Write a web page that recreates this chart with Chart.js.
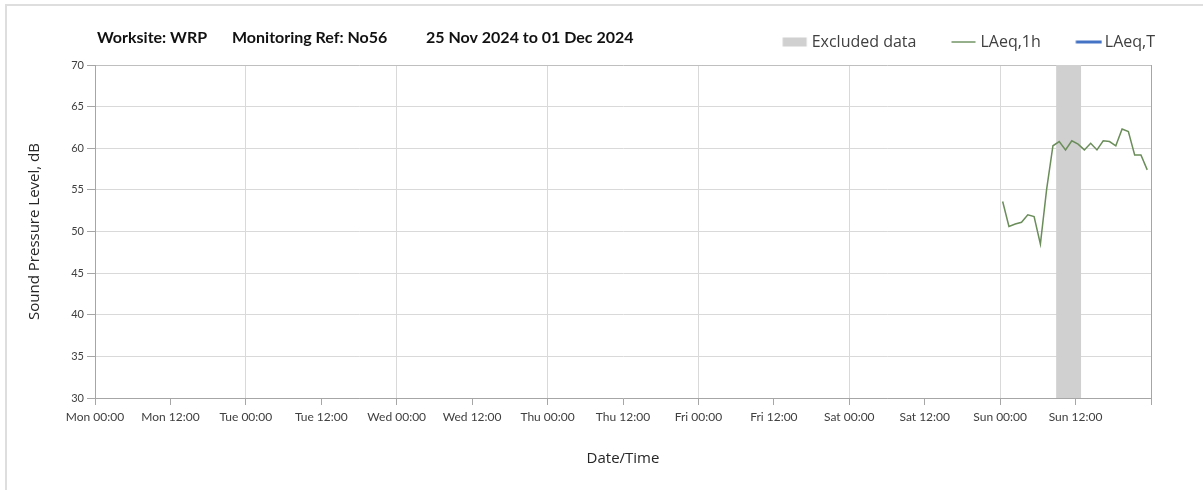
<!DOCTYPE html>
<html>
<head>
<meta charset="utf-8">
<script src="https://cdn.jsdelivr.net/npm/chart.js@4.4.1/dist/chart.umd.min.js"></script>
<style>
  html, body { margin: 0; padding: 0; background: #fff; }
  #wrap { position: relative; width: 1203px; height: 490px; overflow: hidden; }
  #frame { position: absolute; left: 5px; top: 4px; right: 0; bottom: 0;
           border-left: 2px solid #dedede; border-top: 2px solid #dedede; }
  #c { position: absolute; left: 0; top: 0; }
</style>
</head>
<body>
<div id="wrap">
  <div id="frame"></div>
  <canvas id="c" width="1203" height="490"></canvas>
</div>
<script>
// Heading drawn above the plot, in three parts
const headingParts = ['Worksite: WRP', 'Monitoring Ref: No56', '25 Nov 2024 to 01 Dec 2024'];

// Week axis labels, one per 12 hours from Mon 00:00
const tickLabels = ['Mon 00:00', 'Mon 12:00', 'Tue 00:00', 'Tue 12:00', 'Wed 00:00', 'Wed 12:00',
                    'Thu 00:00', 'Thu 12:00', 'Fri 00:00', 'Fri 12:00', 'Sat 00:00', 'Sat 12:00',
                    'Sun 00:00', 'Sun 12:00'];

// Hourly results, time given in hours since Mon 00:00
const hourlyTimes = [144.4, 145.4, 146.4, 147.4, 148.4, 149.4, 150.4, 151.4, 152.4, 153.4, 154.4, 155.4,
                     156.4, 157.4, 158.4, 159.4, 160.4, 161.4, 162.4, 163.4, 164.4, 165.4, 166.4, 167.4];
const laeq1h = [53.6, 50.6, 50.9, 51.1, 52.0, 51.8, 48.5, 55.1, 60.3, 60.8, 59.8, 60.9,
                60.5, 59.8, 60.6, 59.8, 60.9, 60.8, 60.3, 62.3, 62.0, 59.2, 59.2, 57.4];

// Whole-period LAeq,T (no values in this week)
const laeqT = [];

// Period flagged as excluded, hours since Mon 00:00
const excludedStart = 152.9;
const excludedEnd = 156.9;

const FONT_UI = 'Open Sans';
const FONT_TICK = 'Lato';

// Legend marks drawn as small canvases so each entry gets its own shape
function legendMark(draw) {
  const c = document.createElement('canvas');
  c.width = 60; c.height = 16;
  draw(c.getContext('2d'));
  return c;
}
const legendMarks = [
  legendMark(g => { g.fillStyle = '#d0d0d0'; g.fillRect(33.5, 3.5, 24, 9); }),
  legendMark(g => { g.strokeStyle = '#4f7a3f'; g.lineWidth = 1.2; g.beginPath(); g.moveTo(33.5, 8); g.lineTo(57.5, 8); g.stroke(); }),
  legendMark(g => { g.strokeStyle = '#4472c4'; g.lineWidth = 3; g.beginPath(); g.moveTo(33.5, 8); g.lineTo(59.5, 8); g.stroke(); })
];

const headingPlugin = {
  id: 'heading',
  afterDraw(chart) {
    const ctx = chart.ctx;
    const xs = [97, 232, 426];
    ctx.save();
    ctx.font = 'bold 16px ' + FONT_TICK;
    ctx.fillStyle = '#111111';
    ctx.textBaseline = 'middle';
    ctx.textAlign = 'left';
    headingParts.forEach((t, i) => ctx.fillText(t, xs[i], 38));
    ctx.restore();
  }
};

const points = hourlyTimes.map((t, i) => ({ x: t, y: laeq1h[i] }));

new Chart(document.getElementById('c'), {
  type: 'line',
  data: {
    datasets: [
      {
        label: 'Excluded data',
        data: [{ x: excludedStart, y: 70 }, { x: excludedEnd, y: 70 }],
        fill: 'start',
        backgroundColor: '#d0d0d0',
        borderWidth: 0,
        pointRadius: 0,
        order: 2
      },
      {
        label: 'LAeq,1h',
        data: points,
        borderColor: '#6a8d5a',
        borderWidth: 1.5,
        pointRadius: 0,
        tension: 0,
        order: 0
      },
      {
        label: 'LAeq,T',
        data: laeqT,
        borderColor: '#4472c4',
        borderWidth: 3,
        pointRadius: 0,
        order: 1
      }
    ]
  },
  options: {
    responsive: false,
    animation: false,
    layout: { padding: { top: 27, right: 41, bottom: 0, left: 0 } },
    plugins: {
      tooltip: { enabled: false },
      legend: {
        position: 'top',
        align: 'end',
        labels: {
          usePointStyle: true,
          pointStyleWidth: 49,
          padding: 7,
          color: '#404040',
          font: { family: FONT_UI, size: 16 },
          sort: (a, b) => a.datasetIndex - b.datasetIndex,
          generateLabels(chart) {
            const items = Chart.defaults.plugins.legend.labels.generateLabels(chart);
            items.forEach(it => { it.pointStyle = legendMarks[it.datasetIndex]; });
            return items;
          }
        }
      }
    },
    scales: {
      x: {
        type: 'linear',
        min: 0,
        max: 168,
        afterFit: s => { s.height = 92; },
        border: { color: '#a6a6a6', width: 1 },
        grid: {
          drawTicks: true,
          tickLength: 7,
          tickColor: '#a6a6a6',
          color: ctx => {
            const v = ctx.tick ? ctx.tick.value : -1;
            if (v === 168) return '#a6a6a6';
            if (v > 0 && v % 24 === 0) return '#d9d9d9';
            return 'rgba(0,0,0,0)';
          }
        },
        ticks: {
          stepSize: 12,
          autoSkip: false,
          maxRotation: 0,
          padding: 5,
          color: '#404040',
          font: { family: FONT_TICK, size: 12 },
          callback: v => (v < 168 ? tickLabels[v / 12] : '')
        },
        title: {
          display: true,
          text: 'Date/Time',
          color: '#262626',
          font: { family: FONT_UI, size: 15 },
          padding: { top: 0, bottom: 22 }
        }
      },
      xTopGap: {
        type: 'linear',
        position: 'top',
        min: 0,
        max: 168,
        afterFit: s => { s.height = 5; },
        border: { display: false },
        grid: { display: false, drawTicks: false },
        ticks: { display: false }
      },
      y: {
        min: 30,
        max: 70,
        afterFit: s => { s.width = 95; },
        border: { color: '#a6a6a6', width: 1 },
        grid: {
          tickLength: 8,
          tickColor: '#a6a6a6',
          color: ctx => (ctx.tick && ctx.tick.value === 70 ? '#bfbfbf' : '#d9d9d9')
        },
        ticks: {
          stepSize: 5,
          padding: 3,
          color: '#404040',
          font: { family: FONT_TICK, size: 11 }
        },
        title: {
          display: true,
          text: 'Sound Pressure Level, dB',
          color: '#262626',
          font: { family: FONT_UI, size: 15 },
          padding: { top: 26, bottom: 0 }
        }
      },
      yRightEdge: {
        position: 'right',
        min: 30,
        max: 70,
        afterFit: s => { s.width = 11; },
        border: { display: false },
        grid: { display: false, drawTicks: false },
        ticks: { display: false }
      }
    }
  },
  plugins: [headingPlugin]
});
</script>
</body>
</html>
